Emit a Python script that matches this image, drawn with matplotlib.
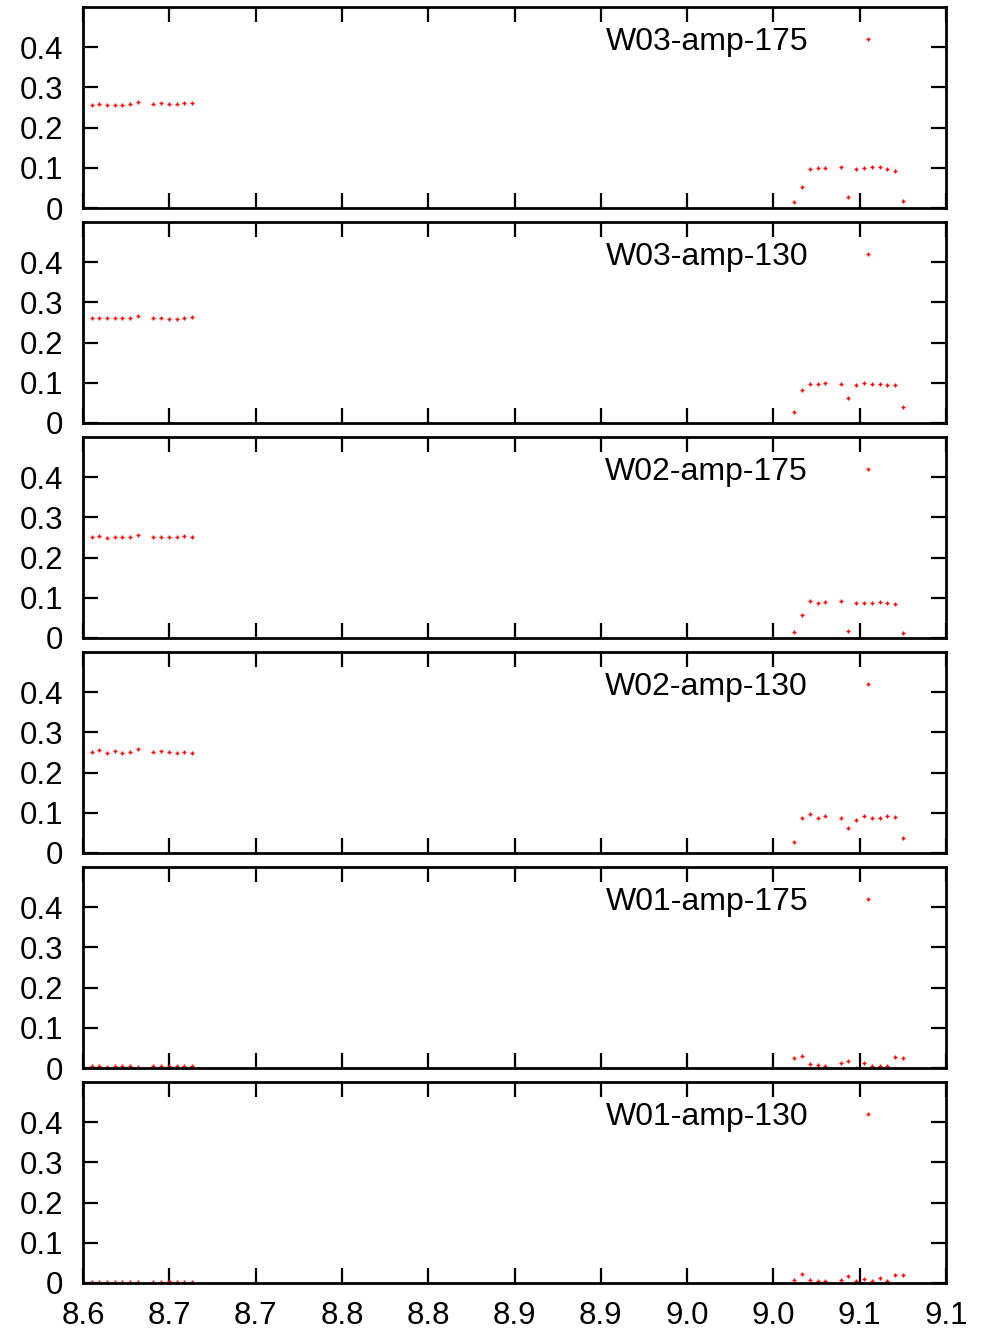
import numpy as np
import matplotlib
matplotlib.use('Agg')
import matplotlib.pyplot as plt

plt.rcParams['font.family'] = ['Liberation Sans', 'DejaVu Sans']

# frequencies of the two point groups
x_left = [8.6050, 8.6094, 8.6139, 8.6184, 8.6228, 8.6272, 8.6319,
          8.6407, 8.6452, 8.6497, 8.6543, 8.6587, 8.6632]
x_right = [9.0122, 9.0167, 9.0211, 9.0256, 9.0300, 9.0390, 9.0435,
           9.0480, 9.0526, 9.0570, 9.0615, 9.0660, 9.0706, 9.0750]

labels = ['W03-amp-175', 'W03-amp-130', 'W02-amp-175',
          'W02-amp-130', 'W01-amp-175', 'W01-amp-130']

y_left = [
    [0.257, 0.259, 0.256, 0.256, 0.257, 0.259, 0.264, 0.258, 0.261, 0.259, 0.259, 0.261, 0.261],
    [0.260, 0.262, 0.260, 0.260, 0.261, 0.262, 0.267, 0.260, 0.262, 0.259, 0.258, 0.261, 0.263],
    [0.252, 0.253, 0.249, 0.252, 0.251, 0.252, 0.256, 0.251, 0.251, 0.252, 0.250, 0.254, 0.252],
    [0.252, 0.255, 0.249, 0.253, 0.250, 0.251, 0.258, 0.251, 0.254, 0.252, 0.249, 0.252, 0.250],
    [0.004, 0.004, 0.003, 0.005, 0.004, 0.004, 0.003, 0.004, 0.004, 0.005, 0.004, 0.004, 0.004],
    [0.003, 0.003, 0.003, 0.003, 0.003, 0.003, 0.003, 0.003, 0.003, 0.004, 0.003, 0.003, 0.003],
]
y_right = [
    [0.014, 0.052, 0.097, 0.099, 0.100, 0.103, 0.027, 0.096, 0.099, 0.102, 0.102, 0.097, 0.091, 0.018],
    [0.027, 0.082, 0.098, 0.097, 0.100, 0.098, 0.061, 0.094, 0.099, 0.096, 0.097, 0.095, 0.094, 0.039],
    [0.015, 0.056, 0.091, 0.086, 0.089, 0.091, 0.018, 0.086, 0.088, 0.088, 0.089, 0.087, 0.084, 0.013],
    [0.027, 0.086, 0.097, 0.088, 0.091, 0.088, 0.062, 0.082, 0.091, 0.088, 0.086, 0.093, 0.089, 0.038],
    [0.026, 0.029, 0.011, 0.008, 0.006, 0.013, 0.017, 0.001, 0.013, 0.004, 0.006, 0.005, 0.028, 0.025],
    [0.008, 0.023, 0.008, 0.004, 0.004, 0.008, 0.018, 0.004, 0.011, 0.005, 0.012, 0.006, 0.019, 0.020],
]

xticks = [8.60, 8.65, 8.70, 8.75, 8.80, 8.85, 8.90, 8.95, 9.00, 9.05, 9.10]
xticklabels = ['8.6', '8.7', '8.7', '8.8', '8.8', '8.9', '8.9', '9.0', '9.0', '9.1', '9.1']
yticks = [0, 0.1, 0.2, 0.3, 0.4]
yticklabels = ['0', '0.1', '0.2', '0.3', '0.4']

W, H = 983, 1332
fig = plt.figure(figsize=(W / 100, H / 100), dpi=100)

for i in range(6):
    top = 7 + 215 * i
    ax = fig.add_axes([83 / W, 1 - (top + 201) / H, 863 / W, 201 / H])
    xs = x_left + x_right
    ys = y_left[i] + y_right[i]
    ax.plot(xs, ys, linestyle='none', marker='+', markersize=3.5,
            markeredgewidth=1.0, color='red', label=labels[i])
    ax.set_xlim(8.6, 9.1)
    ax.set_ylim(0, 0.5)
    ax.set_xticks(xticks)
    ax.set_yticks(yticks)
    ax.set_yticklabels(yticklabels)
    if i == 5:
        ax.set_xticklabels(xticklabels)
    else:
        ax.set_xticklabels([])
    ax.tick_params(direction='in', length=11, width=1.6, top=True, right=True,
                   labelsize=22.5, color='black')
    ax.tick_params(axis='y', pad=14)
    ax.tick_params(axis='x', pad=13)
    for s in ax.spines.values():
        s.set_linewidth(2.0)
    ax.legend(loc='center right', bbox_to_anchor=(0.9467, 1 - 35 / 201),
              frameon=False, markerfirst=False, fontsize=23,
              handlelength=2.0, handletextpad=0.88, borderpad=0,
              borderaxespad=0, markerscale=1.0)

fig.savefig('out.png', dpi=100)
